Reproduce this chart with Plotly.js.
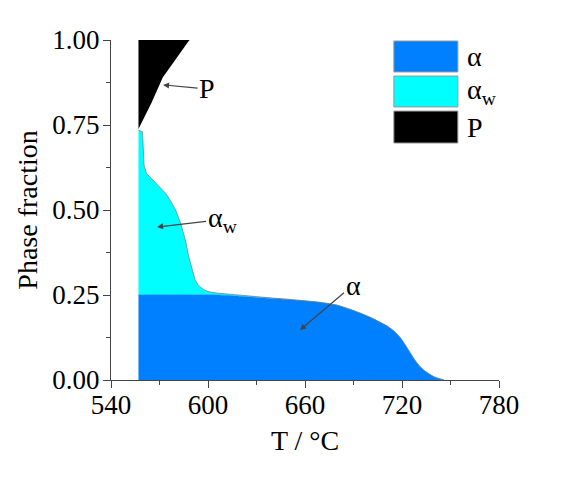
<!DOCTYPE html>
<html>
<head>
<meta charset="utf-8">
<script src="https://cdn.plot.ly/plotly-3.0.1.min.js"></script>
<style>
  body { margin: 0; background: #fff; }
  #chart { width: 576px; height: 477px; }
</style>
</head>
<body>
<div id="chart"></div>
<script>
// temperature grid (°C) shared by alpha and alpha_w
const temps = [557, 559.5, 560.5, 562, 565, 568, 571, 574, 577, 580, 583, 586, 588, 590, 592, 594, 597, 600,
  605, 612, 620, 630, 640, 650, 660, 670, 680, 688, 694, 700, 706, 711, 715, 719, 722, 725, 728, 731,
  734, 737, 740, 743, 746];

// phase fraction of alpha
const alpha = [0.251, 0.251, 0.251, 0.251, 0.251, 0.251, 0.251, 0.251, 0.251, 0.251, 0.251, 0.251, 0.251,
  0.251, 0.251, 0.251, 0.251, 0.251, 0.250, 0.249, 0.246, 0.243, 0.240, 0.237, 0.233, 0.228, 0.220,
  0.208, 0.197, 0.185, 0.171, 0.158, 0.144, 0.124, 0.103, 0.080, 0.058, 0.040, 0.027, 0.017, 0.009,
  0.004, 0.0];

// phase fraction of alpha_w
const alphaW = [0.484, 0.479, 0.379, 0.356, 0.342, 0.327, 0.314, 0.297, 0.275, 0.249, 0.211, 0.161, 0.114,
  0.079, 0.044, 0.028, 0.016, 0.009, 0.006, 0.004, 0.003, 0.002, 0.001, 0, 0, 0, 0,
  0, 0, 0, 0, 0, 0, 0, 0, 0, 0, 0, 0, 0, 0, 0, 0];

// pearlite region: lower edge and upper edge
const pTemps = [557, 565, 572, 580, 588.5];
const pLow = [0.738, 0.815, 0.89, 0.945, 1.0];
const pTop = [1, 1, 1, 1, 1];

const legendNames = ['α', 'α<sub>w</sub>', 'P'];
const colors = ['#0080ff', '#00ffff', '#000000'];

const cum = alpha.map((a, i) => a + alphaW[i]);

const font = 'Liberation Serif, Times New Roman, serif';

const traces = [
  {
    x: temps, y: alpha, mode: 'lines', fill: 'tozeroy',
    fillcolor: colors[0], line: {color: colors[0], width: 0.5, shape: 'spline', smoothing: 0.5},
    hoverinfo: 'skip', showlegend: false
  },
  {
    x: temps, y: cum, mode: 'lines', fill: 'tonexty',
    fillcolor: colors[1], line: {color: 'rgba(120,120,120,0.7)', width: 1},
    hoverinfo: 'skip', showlegend: false
  },
  {
    x: pTemps, y: pLow, mode: 'lines',
    line: {color: 'rgba(0,0,0,0)', width: 0},
    hoverinfo: 'skip', showlegend: false
  },
  {
    x: pTemps, y: pTop, mode: 'lines', fill: 'tonexty',
    fillcolor: colors[2], line: {color: colors[2], width: 0.5},
    hoverinfo: 'skip', showlegend: false
  }
];

// hand-drawn legend boxes (paper coords)
const boxY = [[0.906, 0.997], [0.803, 0.894], [0.697, 0.791]];
const shapes = boxY.map((b, i) => ({
  type: 'rect', xref: 'paper', yref: 'paper',
  x0: 0.729, x1: 0.894, y0: b[0], y1: b[1],
  fillcolor: colors[i], line: {color: '#999', width: 1}
}));

const annotations = legendNames.map((n, i) => ({
  xref: 'paper', yref: 'paper', x: 0.912, y: (boxY[i][0] + boxY[i][1]) / 2,
  xanchor: 'left', yanchor: 'middle', text: n, showarrow: false,
  font: {family: font, size: 28, color: '#000'}
}));

const labelStyle = {showarrow: true, arrowhead: 2, arrowsize: 1, arrowwidth: 1.2,
  arrowcolor: '#444', axref: 'x', ayref: 'y', standoff: 0,
  font: {family: font, size: 28, color: '#000'}};

annotations.push(
  Object.assign({text: 'P', x: 572.2, y: 0.868, ax: 599.4, ay: 0.856}, labelStyle),
  Object.assign({text: 'α<sub>w</sub>', x: 568.5, y: 0.45, ax: 609, ay: 0.472}, labelStyle),
  Object.assign({text: 'α', x: 656.9, y: 0.147, ax: 689.7, ay: 0.279}, labelStyle)
);

const layout = {
  width: 576, height: 477,
  margin: {l: 111, r: 77, t: 40, b: 97},
  paper_bgcolor: '#fff', plot_bgcolor: '#fff',
  font: {family: font, size: 27, color: '#000'},
  showlegend: false,
  xaxis: {
    range: [540, 780], dtick: 60, tick0: 540,
    showgrid: false, zeroline: false,
    showline: true, linecolor: '#444', linewidth: 1,
    ticks: 'outside', ticklen: 7, tickcolor: '#444',
    ticklabelstandoff: -6,
    minor: {dtick: 30, ticks: 'outside', ticklen: 4, tickcolor: '#444'},
    tickfont: {family: font, size: 27, color: '#000'},
    title: {text: 'T / °C', standoff: 10, font: {family: font, size: 28, color: '#000'}}
  },
  yaxis: {
    range: [0, 1], dtick: 0.25, tickformat: '.2f',
    showgrid: false, zeroline: false,
    showline: true, linecolor: '#444', linewidth: 1,
    ticks: 'outside', ticklen: 7, tickcolor: '#444',
    ticklabelstandoff: -2,
    minor: {dtick: 0.125, ticks: 'outside', ticklen: 4, tickcolor: '#444'},
    tickfont: {family: font, size: 27, color: '#000'},
    title: {text: 'Phase fraction', standoff: 6, font: {family: font, size: 28, color: '#000'}}
  },
  shapes: shapes,
  annotations: annotations
};

Plotly.newPlot('chart', traces, layout, {displayModeBar: false, staticPlot: true});
</script>
</body>
</html>
